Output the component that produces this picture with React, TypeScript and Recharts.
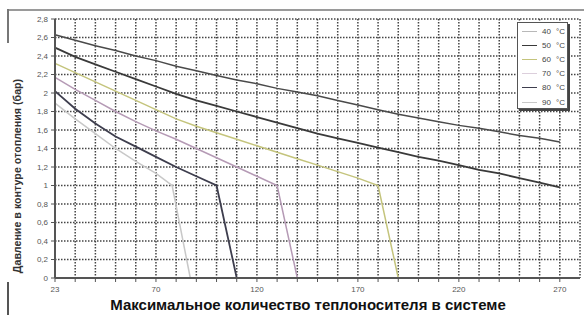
import React from 'react';
import { CartesianGrid, Line, LineChart, XAxis, YAxis } from 'recharts';

// x positions of the curve points (litres), pressure values (bar)
const volFull = [20, 30, 40, 50, 60, 70, 80, 90, 100, 110, 120, 130, 140, 150, 160, 170, 180, 190, 200, 210, 220, 230, 240, 250, 260, 270];
const press40 = [2.63, 2.57, 2.51, 2.46, 2.4, 2.35, 2.29, 2.24, 2.19, 2.14, 2.1, 2.05, 2.01, 1.97, 1.92, 1.87, 1.82, 1.77, 1.73, 1.69, 1.65, 1.62, 1.58, 1.54, 1.51, 1.47];
const press50 = [2.49, 2.39, 2.31, 2.23, 2.15, 2.07, 1.99, 1.92, 1.86, 1.8, 1.74, 1.68, 1.62, 1.56, 1.51, 1.46, 1.41, 1.36, 1.31, 1.27, 1.22, 1.17, 1.13, 1.08, 1.03, 0.98];

const vol60 = [20, 30, 40, 50, 60, 70, 80, 90, 100, 110, 120, 130, 140, 150, 160, 170, 180, 190];
const press60 = [2.32, 2.22, 2.12, 2.02, 1.92, 1.82, 1.72, 1.64, 1.57, 1.5, 1.43, 1.36, 1.29, 1.22, 1.15, 1.08, 1.0, 0];

const vol70 = [20, 30, 40, 50, 60, 70, 80, 90, 100, 110, 120, 130, 140];
const press70 = [2.17, 2.04, 1.92, 1.8, 1.69, 1.59, 1.5, 1.4, 1.3, 1.2, 1.1, 1.0, 0];

const vol80 = [20, 30, 40, 50, 60, 70, 80, 90, 100, 110];
const press80 = [2.02, 1.83, 1.67, 1.53, 1.42, 1.31, 1.2, 1.1, 1.0, 0];

const vol90 = [20, 30, 40, 50, 60, 70, 78, 87];
const press90 = [1.89, 1.72, 1.56, 1.4, 1.26, 1.13, 1.0, 0];

const seriesNames = ['40', '50', '60', '70', '80', '90'];
const lineColors = ['#4a4a4a', '#3a3a3a', '#c4c47c', '#b59ab5', '#3e3e4e', '#c8c8c8'];
const legendColors = ['#b8b8b8', '#3a3a3a', '#c4c47c', '#dccfdc', '#3e3e4e', '#c8c8c8'];

const xGridTicks = [20, 30, 40, 50, 60, 70, 80, 90, 100, 110, 120, 130, 140, 150, 160, 170, 180, 190, 200, 210, 220, 230, 240, 250, 260, 270];
const xLabelValues = [20, 70, 120, 170, 220, 270];
const xLabelTexts = ['23', '70', '120', '170', '220', '270'];
const yTicks = [0, 0.2, 0.4, 0.6, 0.8, 1, 1.2, 1.4, 1.6, 1.8, 2, 2.2, 2.4, 2.6, 2.8];

const toPoints = (xs: number[], ys: number[]) => xs.map((x, i) => ({ x, p: ys[i] }));

const series = [
  toPoints(volFull, press40),
  toPoints(volFull, press50),
  toPoints(vol60, press60),
  toPoints(vol70, press70),
  toPoints(vol80, press80),
  toPoints(vol90, press90),
];

const font = 'Arial, "Liberation Sans", sans-serif';
const tickStyle = { fontSize: 8, fill: '#555', fontFamily: font };

const LegendBox = () => (
  <div
    style={{
      position: 'absolute',
      left: 517,
      top: 22,
      width: 51,
      height: 87,
      background: '#fff',
      border: '1px solid #555',
      boxShadow: '2px 2px 0 #444',
      padding: '1px 0 0 4px',
      boxSizing: 'border-box',
      fontFamily: font,
      fontSize: 8,
      color: '#444',
    }}
  >
    {seriesNames.map((name, i) => (
      <div key={name} style={{ display: 'flex', alignItems: 'center', height: 14.2 }}>
        <span style={{ display: 'inline-block', width: 15, borderTop: `1.5px solid ${legendColors[i]}`, marginRight: 5 }} />
        <span style={{ width: 14 }}>{name}</span>
        <span>°C</span>
      </div>
    ))}
  </div>
);

export default function App() {
  return (
    <div style={{ position: 'absolute', left: 0, top: 0, width: 584, height: 315, background: '#fff', overflow: 'hidden' }}>
      {/* frame pieces */}
      <div style={{ position: 'absolute', left: 7, top: 9, width: 577, height: 0, borderTop: '2px solid #9a9a9a' }} />
      <div style={{ position: 'absolute', left: 7, top: 9, width: 0, height: 34, borderLeft: '2px solid #777' }} />
      <div style={{ position: 'absolute', left: 7, top: 282, width: 0, height: 33, borderLeft: '2px solid #555' }} />

      <LineChart width={584} height={315} data={series[0]} margin={{ top: 19, right: 4, bottom: 17, left: 0 }}>
        <CartesianGrid stroke='#444' strokeWidth={1.5} strokeDasharray='1.5 1.5' />
        <XAxis
          dataKey='x'
          type='number'
          domain={[20, 280]}
          ticks={xGridTicks}
          interval={0}
          height={20}
          tick={tickStyle}
          tickSize={4}
          tickMargin={4}
          tickFormatter={(v: number) => {
            const i = xLabelValues.indexOf(v);
            return i >= 0 ? xLabelTexts[i] : '';
          }}
          axisLine={{ stroke: '#555', strokeWidth: 2 }}
          tickLine={{ stroke: '#555' }}
        />
        <YAxis
          type='number'
          domain={[0, 2.8]}
          ticks={yTicks}
          interval={0}
          width={55}
          tick={tickStyle}
          tickSize={4}
          tickMargin={3}
          tickFormatter={(v: number) => String(Math.round(v * 10) / 10).replace('.', ',')}
          axisLine={{ stroke: '#555', strokeWidth: 2 }}
          tickLine={{ stroke: '#555' }}
        />
        {series.map((pts, i) => (
          <Line
            key={seriesNames[i]}
            data={pts}
            dataKey='p'
            name={`${seriesNames[i]} °C`}
            stroke={lineColors[i]}
            strokeWidth={i === 1 || i === 4 ? 1.8 : 1.5}
            dot={false}
            isAnimationActive={false}
          />
        ))}
      </LineChart>

      <LegendBox />

      <div
        style={{
          position: 'absolute',
          left: 17,
          top: 176,
          transform: 'translate(-50%, -50%) rotate(-90deg)',
          whiteSpace: 'nowrap',
          fontFamily: font,
          fontWeight: 'bold',
          fontSize: 10.7,
          color: '#333',
        }}
      >
        Давление в контуре отопления (бар)
      </div>
      <div
        style={{
          position: 'absolute',
          left: 308,
          top: 304,
          transform: 'translate(-50%, -50%)',
          whiteSpace: 'nowrap',
          fontFamily: font,
          fontWeight: 'bold',
          fontSize: 15,
          color: '#111',
        }}
      >
        Максимальное количество теплоносителя в системе
      </div>
    </div>
  );
}
